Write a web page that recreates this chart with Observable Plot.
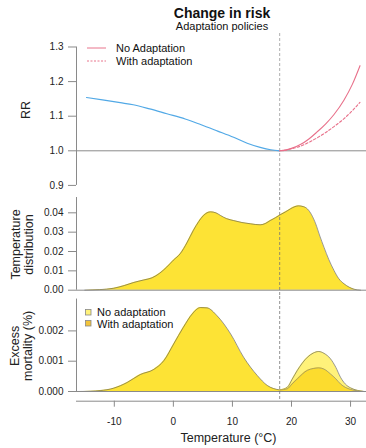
<!DOCTYPE html>
<html>
<head>
<meta charset="utf-8">
<script src="https://cdn.jsdelivr.net/npm/d3@7"></script>
<script src="https://cdn.jsdelivr.net/npm/@observablehq/plot@0.6"></script>
<style>
  html, body { margin: 0; padding: 0; background: #fff; }
  #wrap { position: relative; width: 366px; height: 448px; font-family: "Liberation Sans", Arial, sans-serif; color: #111; overflow: hidden; }
  #wrap svg { display: block; overflow: visible; }
  .abs { position: absolute; white-space: nowrap; }
</style>
</head>
<body>
<div id="wrap">
  <div class="abs" style="left:122px;width:200px;text-align:center;top:6px;font-size:14px;line-height:14px;font-weight:bold;">Change in risk</div>
  <div class="abs" style="left:122px;width:200px;text-align:center;top:20.5px;font-size:11px;line-height:11px;">Adaptation policies</div>
  <div style="height:33px"></div>
  <div id="p1"></div>
  <div id="p2"></div>
  <div id="p3"></div>
  <div class="abs" style="left:87px;top:41px;font-size:11px;line-height:12px;">
    <div style="height:13px;display:flex;align-items:center;"><svg width="20" height="4"><line x1="0" y1="2" x2="19" y2="2" stroke="#e8758c" stroke-width="1"/></svg><span style="margin-left:9px">No Adaptation</span></div>
    <div style="height:13px;display:flex;align-items:center;"><svg width="20" height="4"><line x1="0" y1="2" x2="19" y2="2" stroke="#e8758c" stroke-width="1" stroke-dasharray="2,1.5"/></svg><span style="margin-left:9px">With adaptation</span></div>
  </div>
  <div class="abs" style="left:85px;top:306.5px;font-size:11px;line-height:12px;">
    <div style="height:11.6px;display:flex;align-items:center;"><svg width="7" height="7"><rect x="0.5" y="0.5" width="5.5" height="5.5" fill="#fff27a" stroke="#888" stroke-width="0.8"/></svg><span style="margin-left:5px">No adaptation</span></div>
    <div style="height:11.6px;display:flex;align-items:center;"><svg width="7" height="7"><rect x="0.5" y="0.5" width="5.5" height="5.5" fill="#f2c43a" stroke="#888" stroke-width="0.8"/></svg><span style="margin-left:5px">With adaptation</span></div>
  </div>
</div>
<script>
// ---------- data ----------
const xTicks = [-10, 0, 10, 20, 30];
const mmt = 18;

// Panel 1: relative risk
const rrTicks = [0.9, 1.0, 1.1, 1.2, 1.3];
const coldT  = [-14.7, -12, -9, -6.8, -4, -1.1, 2, 4.6, 7.5, 10.2, 12.5, 14.7, 16.5, 18];
const coldRR = [1.154, 1.147, 1.139, 1.133, 1.121, 1.107, 1.092, 1.076, 1.057, 1.039, 1.022, 1.010, 1.003, 1.000];
const hotT      = [18, 19, 20, 21.5, 23, 24.3, 25.8, 27.2, 28.9, 30.3, 31.6];
const hotRRNo   = [1.000, 1.002, 1.007, 1.018, 1.035, 1.054, 1.078, 1.105, 1.147, 1.192, 1.246];
const hotRRWith = [1.000, 1.002, 1.006, 1.013, 1.025, 1.037, 1.053, 1.070, 1.093, 1.116, 1.140];

// Panel 2: temperature distribution
const distTicks = [0, 0.01, 0.02, 0.03, 0.04];
const distT = [-15, -12.5, -10.1, -8.3, -6.7, -5, -3.6, -2.3, -1.1, 0, 1.2, 2.3, 3.4, 4.3, 5.1, 6.3, 7.2, 8.0, 9, 10.2, 11.6, 13.1, 14.7, 15.6, 16.4, 17.3, 18.1, 19.0, 19.8, 20.6, 21.2, 22.0, 22.7, 23.4, 24.1, 24.8, 25.5, 26.3, 27.2, 28, 28.9, 29.8, 30.6, 31.7];
const distV = [0, 0.0003, 0.001, 0.0024, 0.004, 0.0053, 0.0064, 0.0088, 0.012, 0.0155, 0.019, 0.0245, 0.031, 0.0355, 0.0386, 0.0405, 0.0400, 0.0386, 0.037, 0.036, 0.035, 0.0343, 0.0338, 0.0345, 0.036, 0.0375, 0.039, 0.0405, 0.042, 0.0432, 0.0436, 0.0432, 0.042, 0.039, 0.0343, 0.028, 0.0222, 0.016, 0.0102, 0.006, 0.0033, 0.0015, 0.0005, 0];

// Panel 3: excess mortality
const exTicks = [0, 0.001, 0.002];
const coldExT = [-16.3, -14, -12.4, -10.1, -7.8, -5.6, -3.3, -1.6, 0.06, 1.7, 3.2, 4.6, 5.7, 7.4, 9.7, 11.9, 14.2, 15.9, 18];
const coldEx  = [0, 0.00001, 0.00003, 0.00011, 0.0003, 0.00056, 0.00073, 0.00102, 0.00157, 0.00212, 0.00256, 0.00277, 0.00276, 0.0025, 0.0019, 0.00113, 0.00053, 0.0002, 0.00005];
const hotExT    = [18, 19.3, 20.1, 21.0, 22.7, 23.7, 24.6, 25.5, 26.6, 27.5, 28.3, 29.1, 30, 32.3];
const hotExNo   = [0.00005, 0.00014, 0.0004, 0.0007, 0.00113, 0.00127, 0.00132, 0.00126, 0.00108, 0.0008, 0.00047, 0.00025, 0.00012, 0];
const hotExWith = [0.00005, 0.00009, 0.00025, 0.00042, 0.0007, 0.00076, 0.00078, 0.00074, 0.00058, 0.00042, 0.00025, 0.00014, 0.00007, 0];

// ---------- styling ----------
const W = 366;
const xDomain = [-16.4, 32.7];
const axisGray = "#8a8a8a";
const textCol = "#222";
const blue = "#52a9e6";
const pink = "#e8708a";
const yellow = "#fde335";
const yellowLight = "#fff27a";
const yellowDark = "#fcdc2e";
const outline = "#555";
const font = {fontFamily: "'Liberation Sans', Arial, sans-serif", fontSize: "10px", background: "transparent", overflow: "visible"};

const zip = (xs, ys) => xs.map((x, i) => ({x, y: ys[i]}));
const common = {width: W, marginLeft: 76, marginRight: 0, x: {domain: xDomain, axis: null}, style: font};

function yAxisLine(lo, hi) {
  return Plot.ruleX([{x: xDomain[0], y1: lo, y2: hi}], {x: "x", y1: "y1", y2: "y2", stroke: axisGray, strokeWidth: 1});
}
function yTitle(txt, dx, dy) {
  return Plot.text([txt], {frameAnchor: "left", textAnchor: "middle", lineAnchor: "middle", dx, dy, rotate: -90, text: d => d, fontSize: 12.5, fill: textCol, lineHeight: 1.05});
}

// Panel 1
const rrDomain = [0.8795, 1.339];
const p1 = Plot.plot({
  ...common, height: 159, marginTop: 0, marginBottom: 0,
  y: {domain: rrDomain, axis: null},
  marks: [
    Plot.ruleY([1], {stroke: axisGray, strokeWidth: 1}),
    Plot.ruleX([mmt], {stroke: "#999", strokeDasharray: "3,2", strokeWidth: 0.8}),
    yAxisLine(rrTicks[0], rrTicks[rrTicks.length - 1]),
    Plot.axisY({ticks: rrTicks, tickSize: 8, tickPadding: 5, tickFormat: d3.format(".1f"), stroke: axisGray, fill: textCol, label: null}),
    Plot.line(zip(coldT, coldRR), {x: "x", y: "y", stroke: blue, strokeWidth: 1.2, curve: "monotone-x"}),
    Plot.line(zip(hotT, hotRRNo), {x: "x", y: "y", stroke: pink, strokeWidth: 1.1, curve: "monotone-x"}),
    Plot.line(zip(hotT, hotRRWith), {x: "x", y: "y", stroke: pink, strokeWidth: 1.1, strokeDasharray: "2.5,2", curve: "monotone-x"}),
    yTitle("RR", -51, -3)
  ]
});
document.getElementById("p1").append(p1);

// Panel 2
const distDomain = [-0.00326, 0.0505];
const p2 = Plot.plot({
  ...common, height: 104, marginTop: 0, marginBottom: 0,
  y: {domain: distDomain, axis: null},
  marks: [
    Plot.areaY(zip(distT, distV), {x: "x", y: "y", fill: yellow, curve: "monotone-x"}),
    Plot.line(zip(distT, distV), {x: "x", y: "y", stroke: outline, strokeWidth: 0.6, curve: "monotone-x"}),
    Plot.ruleY([0], {stroke: axisGray, strokeWidth: 1}),
    Plot.ruleX([mmt], {stroke: "#777", strokeDasharray: "3,2", strokeWidth: 0.8}),
    yAxisLine(0, 0.0479),
    Plot.axisY({ticks: distTicks, tickSize: 8, tickPadding: 5, tickFormat: d3.format(".2f"), stroke: axisGray, fill: textCol, label: null}),
    yTitle("Temperature\ndistribution", -54, 0)
  ]
});
document.getElementById("p2").append(p2);

// Panel 3
const exDomain = [-0.00032, 0.003135];
const p3 = Plot.plot({
  ...common, height: 152, marginTop: 0, marginBottom: 47.3,
  y: {domain: exDomain, axis: null},
  marks: [
    Plot.areaY(zip(coldExT, coldEx), {x: "x", y: "y", fill: yellow, curve: "monotone-x"}),
    Plot.line(zip(coldExT, coldEx), {x: "x", y: "y", stroke: outline, strokeWidth: 0.6, curve: "monotone-x"}),
    Plot.areaY(zip(hotExT, hotExNo), {x: "x", y: "y", fill: yellowLight, curve: "monotone-x"}),
    Plot.line(zip(hotExT, hotExNo), {x: "x", y: "y", stroke: outline, strokeWidth: 0.6, curve: "monotone-x"}),
    Plot.areaY(zip(hotExT, hotExWith), {x: "x", y: "y", fill: yellowDark, curve: "monotone-x"}),
    Plot.line(zip(hotExT, hotExWith), {x: "x", y: "y", stroke: "#777", strokeWidth: 0.6, curve: "monotone-x"}),
    Plot.ruleY([0], {stroke: axisGray, strokeWidth: 1}),
    Plot.ruleY([exDomain[0]], {stroke: axisGray, strokeWidth: 1}),
    Plot.ruleX([mmt], {stroke: "#777", strokeDasharray: "3,2", strokeWidth: 0.8}),
    yAxisLine(0, 0.00305),
    Plot.axisY({ticks: exTicks, tickSize: 8, tickPadding: 5, tickFormat: d3.format(".3f"), stroke: axisGray, fill: textCol, label: null}),
    Plot.axisX({ticks: xTicks, tickSize: 6, tickPadding: 11, tickFormat: d => String(d), stroke: axisGray, fill: textCol, label: null}),
    Plot.text(["Temperature (°C)"], {frameAnchor: "bottom", dy: 41, dx: 7, text: d => d, fontSize: 12.5, fill: textCol}),
    yTitle("Excess\nmortality (%)", -55, -3)
  ]
});
document.getElementById("p3").append(p3);
</script>
</body>
</html>
